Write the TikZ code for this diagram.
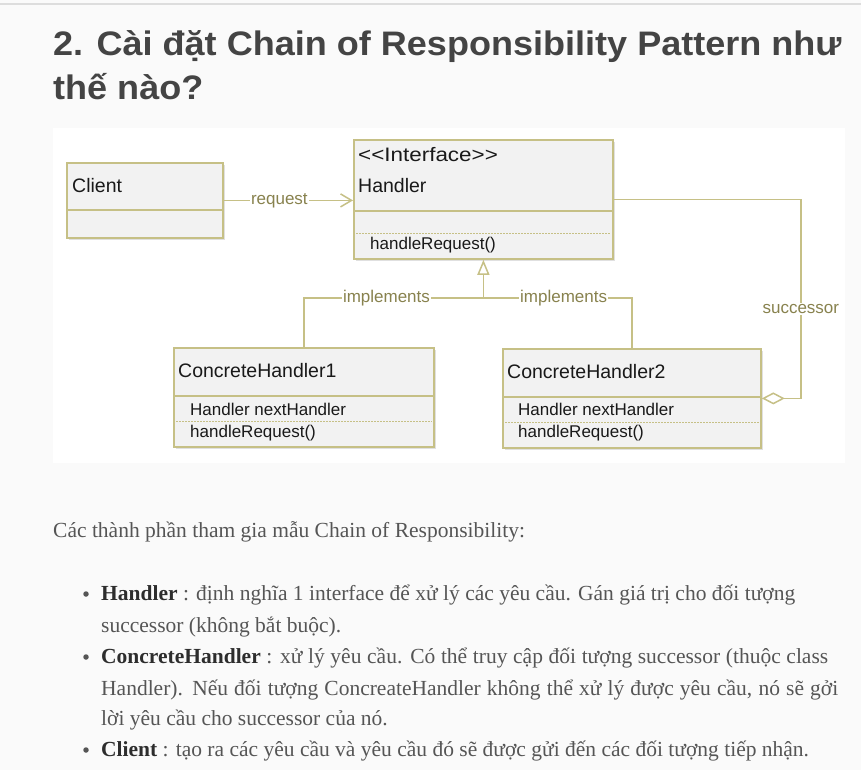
\documentclass[tikz,border=0pt]{standalone}
\usepackage{fontspec}
\setmainfont{Liberation Serif}
\setsansfont{Liberation Sans}
\newfontfamily\titlefont{Liberation Sans}[FakeStretch=1.06]
\newfontfamily\umlfont{Liberation Sans}
\usetikzlibrary{arrows.meta,positioning,shadows}

\definecolor{pagebg}{RGB}{250,250,250}
\definecolor{rulegray}{RGB}{221,221,221}
\definecolor{titlegray}{RGB}{68,68,68}
\definecolor{bodygray}{RGB}{85,85,85}
\definecolor{boldgray}{RGB}{45,45,45}
\definecolor{umlline}{RGB}{198,192,134}
\definecolor{umllabel}{RGB}{136,130,78}
\definecolor{umlfill}{RGB}{242,242,242}
\definecolor{umltext}{RGB}{25,25,25}

\begin{document}
\begin{tikzpicture}[
  x=1pt, y=-1pt,
  classbox/.style={rectangle, draw=umlline, fill=umlfill, line width=1.8pt,
                   anchor=north west, inner sep=0pt,
                   drop shadow={shadow xshift=2pt, shadow yshift=-2pt, fill=black, opacity=0.12}},
  classname/.style={anchor=base west, inner sep=0pt, text=umltext,
                    font=\umlfont\fontsize{19.5}{22}\selectfont},
  member/.style={classname, font=\umlfont\fontsize{17}{20}\selectfont},
  divider/.style={draw=umlline, line width=1.5pt},
  dotline/.style={draw=umlline, line width=1pt, dash pattern=on 1.5pt off 1.5pt},
  link/.style={draw=umlline, line width=1.5pt},
  linklabel/.style={fill=white, inner sep=1pt, text=umllabel,
                    font=\umlfont\fontsize{17}{20}\selectfont},
  titleline/.style={anchor=base west, inner sep=0pt, text=titlegray,
                    font=\titlefont\bfseries\fontsize{34}{44}\selectfont},
  bodyline/.style={anchor=base west, inner sep=0pt, text=bodygray,
                   font=\fontsize{21.5}{31}\selectfont},
  bulletdot/.style={circle, fill=bodygray, inner sep=0pt, minimum size=5.5pt}
]

% Page
\useasboundingbox (0,0) rectangle (861,770);
\fill[pagebg] (0,0) rectangle (861,770);
\draw[rulegray, line width=2pt] (0,4) -- (861,4);

% Title
\node[titleline] (title1) at (53,56) {2. Cài đặt Chain of Responsibility Pattern như};
\node[titleline] (title2) at (53,100) {thế nào?};

% Diagram area
\fill[white] (53,128) rectangle (845,463);

% Client
\node[classbox, minimum width=156pt, minimum height=75pt] (client) at (66,162) {};
\draw[divider] ([yshift=-48pt]client.north west) -- ([yshift=-48pt]client.north east);
\node[classname] (clientname) at (72,192) {Client};

% Handler
\node[classbox, minimum width=259pt, minimum height=119pt] (handler) at (353,139) {};
\draw[divider] ([yshift=-72pt]handler.north west) -- ([yshift=-72pt]handler.north east);
\draw[dotline] ([xshift=3pt,yshift=-94pt]handler.north west) -- ([xshift=-3pt,yshift=-94pt]handler.north east);
\node[classname] (stereo) at (358,162) {\scalebox{1.15}[1]{<<Interface>>}};
\node[classname] (handlername) at (358,192) {Handler};
\node[member] (handlerop) at (370,249) {handleRequest()};

% ConcreteHandler1
\node[classbox, minimum width=260pt, minimum height=99pt] (ch1) at (173,347) {};
\draw[divider] ([yshift=-49pt]ch1.north west) -- ([yshift=-49pt]ch1.north east);
\draw[dotline] ([xshift=3pt,yshift=-74pt]ch1.north west) -- ([xshift=-3pt,yshift=-74pt]ch1.north east);
\node[classname] (ch1name) at (178,377) {ConcreteHandler1};
\node[member] (ch1attr) at (190,415) {Handler nextHandler};
\node[member] (ch1op) at (190,437) {handleRequest()};

% ConcreteHandler2
\node[classbox, minimum width=258pt, minimum height=99pt] (ch2) at (502,348) {};
\draw[divider] ([yshift=-49pt]ch2.north west) -- ([yshift=-49pt]ch2.north east);
\draw[dotline] ([xshift=3pt,yshift=-74pt]ch2.north west) -- ([xshift=-3pt,yshift=-74pt]ch2.north east);
\node[classname] (ch2name) at (507,378) {ConcreteHandler2};
\node[member] (ch2attr) at (518,415) {Handler nextHandler};
\node[member] (ch2op) at (518,437) {handleRequest()};

% Request
\draw[link, -{Straight Barb[length=11pt, width=13pt]}] (client.east)
  -- node[linklabel, pos=0.43] {request} (client.east -| handler.west);

% Implements
\coordinate (join) at ([yshift=-38pt]handler.south);
\draw[link] (ch1.north) |- node[linklabel, pos=0.73] {implements} (join);
\draw[link] (ch2.north) |- node[linklabel, pos=0.73] {implements} (join);
\draw[link, -{Triangle[open, fill=white, length=15pt, width=12pt]}] (join) -- (handler.south);

% Successor
\coordinate (succtop) at ([xshift=187pt]handler.east);
\draw[link, {Diamond[open, fill=white, length=23pt, width=12pt]}-] (ch2.east)
  -| node[linklabel, pos=0.725] {successor} (succtop) -- (handler.east);

% Text below
\node[bodyline] (intro) at (53,537) {Các thành phần tham gia mẫu Chain of Responsibility:};

\node[bulletdot] (dot1) at (86,594) {};
\node[bodyline] (b1a) at (101,600) {\makebox[694pt][s]{\textbf{\color{boldgray}Handler} : định nghĩa 1 interface để xử lý các yêu cầu. Gán giá trị cho đối tượng}};
\node[bodyline] (b1b) at (101,632) {successor (không bắt buộc).};

\node[bulletdot] (dot2) at (86,657) {};
\node[bodyline] (b2a) at (101,663) {\makebox[727pt][s]{\textbf{\color{boldgray}ConcreteHandler} : xử lý yêu cầu. Có thể truy cập đối tượng successor (thuộc class}};
\node[bodyline] (b2b) at (101,695) {\makebox[737pt][s]{Handler). Nếu đối tượng ConcreateHandler không thể xử lý được yêu cầu, nó sẽ gởi}};
\node[bodyline] (b2c) at (101,725) {lời yêu cầu cho successor của nó.};

\node[bulletdot] (dot3) at (86,750) {};
\node[bodyline] (b3a) at (101,756) {\textbf{\color{boldgray}Client} : tạo ra các yêu cầu và yêu cầu đó sẽ được gửi đến các đối tượng tiếp nhận.};

\end{tikzpicture}
\end{document}
